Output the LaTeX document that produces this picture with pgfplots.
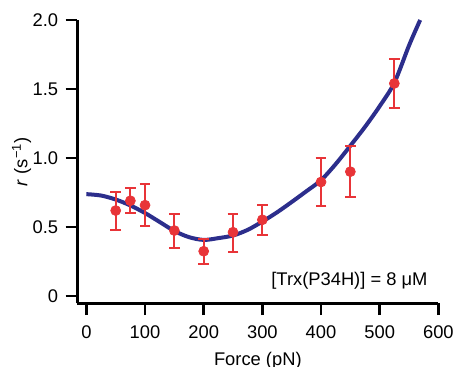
\documentclass[border=0pt]{standalone}
\usepackage{pgfplots}
\pgfplotsset{compat=1.18}
\usepackage{fontspec}
\setmainfont{Liberation Sans}
\definecolor{ptred}{RGB}{232,52,56}
\definecolor{curveblue}{RGB}{44,46,140}
\begin{document}
\begin{tikzpicture}
\begin{axis}[
  at={(0,0)}, anchor=south west,
  scale only axis, width=216.6pt, height=170pt,
  xmin=-15.4, xmax=600, ymin=-0.055, ymax=2.0,
  axis lines=left, axis line style={-, line width=1.5pt, black},
  tick align=outside, major tick length=7pt,
  every tick/.style={line width=1.5pt, black},
  xtick={0,100,...,600}, ytick={0,0.5,1.0,1.5,2.0},
  yticklabels={0,0.5,1.0,1.5,2.0},
  minor tick num=0,
  /pgf/number format/assume math mode=true,
  ticklabel style={font=\fontsize{11}{13}\selectfont},
  xticklabel style={yshift=-3pt},
  yticklabel style={xshift=-1pt},
  xlabel={Force (pN)}, ylabel={\textit{r} (s\textsuperscript{−1})},
  label style={font=\fontsize{11}{13}\selectfont},
  xlabel style={yshift=-1pt},
  ylabel style={yshift=-6pt},
  clip=false,
]
\addplot[curveblue, line width=2.4pt, smooth, tension=0.5] coordinates {
(0,0.737) (25,0.727) (50,0.698) (75,0.655) (100,0.600) (125,0.535) (150,0.470)
(175,0.425) (200,0.405) (225,0.418) (250,0.437) (275,0.478) (300,0.538)
(325,0.605) (350,0.680) (375,0.758) (400,0.838) (425,0.955) (450,1.088)
(475,1.225) (500,1.375) (525,1.545) (550,1.815) (569,2.0)};
\addplot[only marks, mark=*, mark size=3pt, ptred, mark options={fill=ptred, draw=ptred},
  error bars/.cd, y dir=both, y explicit,
  error bar style={line width=1.2pt, ptred},
  error mark options={rotate=90, mark size=3.2pt, line width=1.2pt, ptred}]
  table[x=x, y=y, y error plus=ep, y error minus=em] {
x y ep em
50 0.618 0.136 0.138
75 0.689 0.089 0.090
100 0.657 0.155 0.152
150 0.473 0.119 0.126
200 0.323 0.090 0.090
250 0.461 0.133 0.143
300 0.551 0.104 0.112
400 0.825 0.174 0.175
450 0.900 0.189 0.187
525 1.540 0.176 0.177
};
\node[anchor=east, font=\fontsize{11}{13}\selectfont, inner sep=0pt] at (axis cs:582,0.107) {[Trx(P34H)] = 8 μM};
\end{axis}
\pgfresetboundingbox
\path[use as bounding box] (-46.4pt,-37.6pt) rectangle (225.4pt,182pt);
\end{tikzpicture}
\end{document}
